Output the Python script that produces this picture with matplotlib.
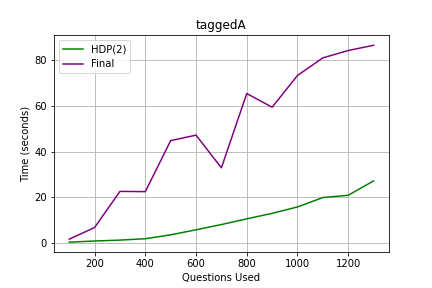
import matplotlib
matplotlib.use("Agg")
import matplotlib.pyplot as plt

# questions used vs time taken
questions = [100, 200, 300, 400, 500, 600, 700, 800, 900, 1000, 1100, 1200, 1300]
hdp2_times = [0.4, 0.9, 1.3, 1.9, 3.6, 5.8, 8.1, 10.6, 13.0, 15.8, 19.9, 20.9, 27.2]
final_times = [1.7, 6.8, 22.6, 22.5, 44.8, 47.2, 32.9, 65.4, 59.4, 73.3, 81.0, 84.2, 86.5]

plt.figure(figsize=(6, 4), dpi=72)
plt.subplots_adjust(bottom=0.125, top=0.877)

plt.plot(questions, hdp2_times, color="green", label="HDP(2)")
plt.plot(questions, final_times, color="purple", label="Final")

plt.title("taggedA")
plt.xlabel("Questions Used")
plt.ylabel("Time (seconds)")
plt.grid(True)
plt.legend(loc="upper left")

plt.savefig("out.png")
